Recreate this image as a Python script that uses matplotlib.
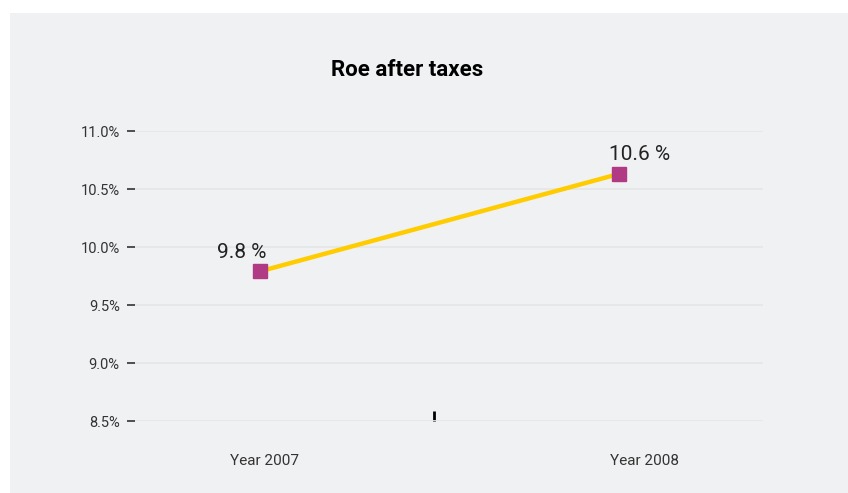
import matplotlib.pyplot as plt
from matplotlib.patches import Rectangle

years = ['Year 2007', 'Year 2008']
roe = [9.79, 10.63]
roe_labels = ['9.8 %', '10.6 %']
yticks = [8.5, 9.0, 9.5, 10.0, 10.5, 11.0]

plt.rcParams['font.family'] = ['Roboto', 'DejaVu Sans']

W, H = 848, 493
fig = plt.figure(figsize=(W / 100, H / 100), dpi=100, facecolor='white')
fig.patches.append(Rectangle((10 / W, 0), 1, (H - 13) / H, transform=fig.transFigure,
                             facecolor='#f0f1f3', edgecolor='none', zorder=-10))

ax = fig.add_axes([135 / W, (H - 421) / H, (763 - 135) / W, (421 - 131) / H])
ax.set_facecolor('none')

x = list(range(len(years)))
ax.plot(x, roe, color='#ffcc00', lw=3.2, zorder=3)
ax.plot(x, roe, ls='none', marker='s', ms=10, color='#b03a84', zorder=4)
# label offsets (points) as placed in the original
offs = [(-13, 7), (15, 7)]
for xi, v, lab, o in zip(x, roe, roe_labels, offs):
    ax.annotate(lab, (xi, v), xytext=o, textcoords='offset points',
                ha='center', va='bottom', fontsize=15, color='#222222')

ax.set_xlim(-0.348, 1.401)
ax.set_ylim(8.5, 11.0)
ax.set_yticks(yticks)
ax.set_yticklabels([f'{t:.1f}%' for t in yticks], fontsize=10.5, color='#333333')
ax.tick_params(axis='y', length=6, width=1.2, color='#333333', pad=5)
ax.set_xticks([0.014, 1.072])
ax.set_xticklabels(years, fontsize=11, color='#333333')
ax.tick_params(axis='x', length=0, pad=24)
ax.set_xticks([0.485], minor=True)
ax.tick_params(axis='x', which='minor', direction='in', length=7, width=2, color='black')

ax.grid(axis='y', color='#e5e6e9', lw=1.3)
ax.set_axisbelow(True)
for s in ax.spines.values():
    s.set_visible(False)

fig.text(407 / W, (H - 70) / H, 'Roe after taxes', ha='center', va='center',
         fontsize=16, fontweight='bold', color='black')

fig.savefig('out.png', dpi=100, facecolor='white')
